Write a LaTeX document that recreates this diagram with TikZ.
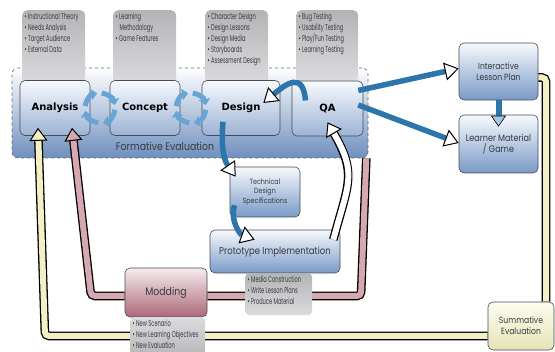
\documentclass[tikz,border=0pt]{standalone}
\usepackage{fontspec}
\setmainfont[FakeStretch=0.85]{Poppins}
\newfontfamily\condfont[FakeStretch=0.6]{Poppins}
\newfontfamily\headfont{DejaVu Sans}
\usetikzlibrary{arrows.meta, positioning, calc}
\definecolor{BoxTop}{RGB}{247,250,253}
\definecolor{BoxBot}{RGB}{122,154,199}
\definecolor{BoxEdge}{RGB}{70,75,85}
\definecolor{BandBot}{RGB}{110,143,190}
\definecolor{NoteTop}{RGB}{180,180,182}
\definecolor{NoteBot}{RGB}{220,220,222}
\definecolor{ModTop}{RGB}{246,236,239}
\definecolor{ModBot}{RGB}{172,104,120}
\definecolor{SumTop}{RGB}{253,253,242}
\definecolor{SumBot}{RGB}{230,228,182}
\definecolor{LoopYellow}{RGB}{242,240,196}
\definecolor{LoopPink}{RGB}{214,168,178}
\definecolor{FlowBlue}{RGB}{45,118,172}
\definecolor{CycBlue}{RGB}{105,165,212}
\definecolor{LabelGrey}{RGB}{55,58,64}
\pgfdeclarelayer{front}
\pgfsetlayers{main,front}

\begin{document}
\begin{tikzpicture}[
        x = 1pt, y = 1pt,
        phase/.style = {
            rounded corners = 5pt,
            draw = BoxEdge,
            line width = 0.6pt,
            top color = BoxTop,
            bottom color = BoxBot,
            align = center,
            text = LabelGrey,
            font = \fontsize{9.5}{11}\selectfont
        },
        head/.style = {
            phase,
            bottom color = BoxBot!75!white,
            minimum height = 55pt,
            text = black,
            font = \headfont\bfseries\fontsize{10}{12}\selectfont
        },
        note/.style = {
            rounded corners = 5pt,
            top color = NoteTop,
            bottom color = NoteBot,
            anchor = north west,
            inner sep = 2.5pt,
            text = LabelGrey,
            font = \condfont\fontsize{8.5}{11}\selectfont
        },
        formbox/.style = {
            rounded corners = 6pt,
            draw = gray!80!black,
            dashed,
            line width = 0.6pt,
            top color = white,
            bottom color = BandBot
        },
        flow/.style = {
            line width = 5.5pt,
            draw = FlowBlue,
            -{Triangle[length = 14pt, width = 18pt, color = black, fill = white, line width = 1pt]}
        },
        band/.style = {
            line width = 6pt,
            draw = #1,
            rounded corners = 4pt,
            preaction = {draw = black, line width = 8.6pt}
        },
        back/.style = {
            line width = 6pt,
            draw = #1,
            rounded corners = 4pt,
            preaction = {draw = black, line width = 8.6pt, shorten >= 10pt, arrows = -},
            -{Triangle[length = 13pt, width = 18pt, color = black, fill = #1, line width = 1pt]}
        },
        cyc/.style = {
            line width = 5pt,
            draw = CycBlue,
            -{Triangle[length = 6pt, width = 11pt]}
        }
    ]
        \useasboundingbox (0,0) rectangle (555,-352);

        % formative evaluation band
        \node[formbox, minimum width = 356pt, minimum height = 90pt] (form) at (190,-113) {};
        \node[text = LabelGrey, font = \fontsize{11}{13}\selectfont] (formlbl) at (165,-146) {Formative Evaluation};

        % notes above the phases
        \node[note] (annote) at (22,-10) {\parbox[t][70pt][t]{58pt}{\textbullet~Instructional Theory\\\textbullet~Needs Analysis\\\textbullet~Target Audience\\\textbullet~External Data}};
        \node[note] (connote) at (113,-10) {\parbox[t][70pt][t]{58pt}{\textbullet~Learning\\\hspace*{4pt}Methodology\\\textbullet~Game Features}};
        \node[note] (desnote) at (205,-10) {\parbox[t][70pt][t]{58pt}{\textbullet~Character Design\\\textbullet~Design Lessons\\\textbullet~Design Media\\\textbullet~Storyboards\\\textbullet~Assessment Design}};
        \node[note] (qanote) at (296,-10) {\parbox[t][67pt][t]{57pt}{\textbullet~Bug Testing\\\textbullet~Usability Testing\\\textbullet~Play/Fun Testing\\\textbullet~Learning Testing}};

        % phases
        \node[head, minimum width = 70pt] (an) at (55,-108) {Analysis};
        \node[head, minimum width = 70pt] (con) at (145,-108) {Concept};
        \node[head, minimum width = 78pt] (des) at (241,-108) {Design};
        \node[head, minimum width = 71pt] (qa) at (327.5,-108.5) {QA};

        \coordinate (cyc1) at ($(an.east)!0.5!(con.west)$);
        \coordinate (cyc2) at ($(con.east)!0.5!(des.west)$);
        \foreach \c in {cyc1, cyc2}
            \foreach \a in {135, 45, -45, -135}
                \draw[cyc] ($(\c)+({\a+38}:15pt)$) arc[start angle = \a+38, end angle = \a-34, radius = 15pt];

        \node[phase, minimum width = 79pt, minimum height = 57pt, font = \fontsize{9}{11}\selectfont] (ilp) at (498.5,-71.5) {Interactive\\Lesson Plan};
        \node[phase, minimum width = 79pt, minimum height = 58pt] (lmg) at (498.5,-144) {Learner Material\\/ Game};
        \node[phase, minimum width = 70pt, minimum height = 50pt, font = \fontsize{7.5}{9.5}\selectfont] (tds) at (265,-192) {Technical\\Design\\Specifications};
        \node[phase, minimum width = 130pt, minimum height = 43pt, font = \fontsize{10}{12}\selectfont] (proto) at (275,-251.5) {Prototype Implementation};

        \begin{pgfonlayer}{front}
            \node[note, rounded corners = 4pt] (protonote) at (245,-273) {\parbox[t][37pt][t]{62pt}{\textbullet~Media Construction\\\textbullet~Write Lesson Plans\\\textbullet~Produce Material}};
            \node[phase, minimum width = 82pt, minimum height = 49pt, top color = ModTop, bottom color = ModBot, font = \fontsize{11}{13}\selectfont] (mod) at (166,-292.5) {Modding};
            \node[note, rounded corners = 4pt, top color = NoteBot, bottom color = NoteTop] (modnote) at (130,-317) {\parbox[t][37pt][t]{70pt}{\textbullet~New Scenario\\\textbullet~New Learning Objectives\\\textbullet~New Evaluation}};
            \node[phase, minimum width = 66pt, minimum height = 48pt, top color = SumTop, bottom color = SumBot, font = \fontsize{9}{11}\selectfont] (summ) at (521,-326) {Summative\\Evaluation};
        \end{pgfonlayer}

        % feedback loops
        \coordinate (ybend) at (45,-336);
        \coordinate (pbend1) at (361,-296);
        \coordinate (pbend2) at (91,-296);
        \draw[band = LoopYellow] ([yshift = -6pt]ilp.east) -| ([xshift = 25pt]summ.north);
        \draw[back = LoopYellow] ([yshift = -10pt]summ.west) -- (ybend) -- ([xshift = -17pt, yshift = 8pt]an.south);
        \draw[band = LoopPink] ([xshift = -2pt]form.south east) -- (pbend1) -- ([yshift = -3.5pt]mod.east);
        \draw[back = LoopPink] ([yshift = -3.5pt]mod.west) -- (pbend2) -- ([xshift = 17pt, yshift = 8pt]an.south);

        % process arrows
        \draw[flow] ([xshift = -5pt, yshift = 18pt]qa.east) -- ([yshift = 3pt]ilp.west);
        \draw[flow] ([xshift = -5pt, yshift = 3.5pt]qa.east) -- ([yshift = 1pt]lmg.west);
        \draw[flow, line width = 6pt, -{Triangle[length = 11pt, width = 15pt, color = black, fill = CycBlue!60!white, line width = 0.6pt]}] (ilp.south) -- ([yshift = -12pt]lmg.north);
        \draw[flow] ([xshift = -18pt, yshift = 14pt]des.south) to[out = -95, in = 125] ([xshift = 6pt, yshift = -10pt]tds.north west);
        \draw[flow] ([xshift = 5pt, yshift = 12pt]tds.south west) to[out = -110, in = 160] ([xshift = 45pt, yshift = -10pt]proto.north west);
        \draw[flow] ([xshift = -22pt, yshift = 8pt]qa.center) to[out = 95, in = 40, looseness = 1.8] ([xshift = -17pt, yshift = 5pt]des.east);
        \draw[back = white] ([xshift = -7pt, yshift = -10pt]proto.north east) to[out = 75, in = -60, looseness = 1.3] ([yshift = 14pt]qa.south);
    \end{tikzpicture}
\end{document}
